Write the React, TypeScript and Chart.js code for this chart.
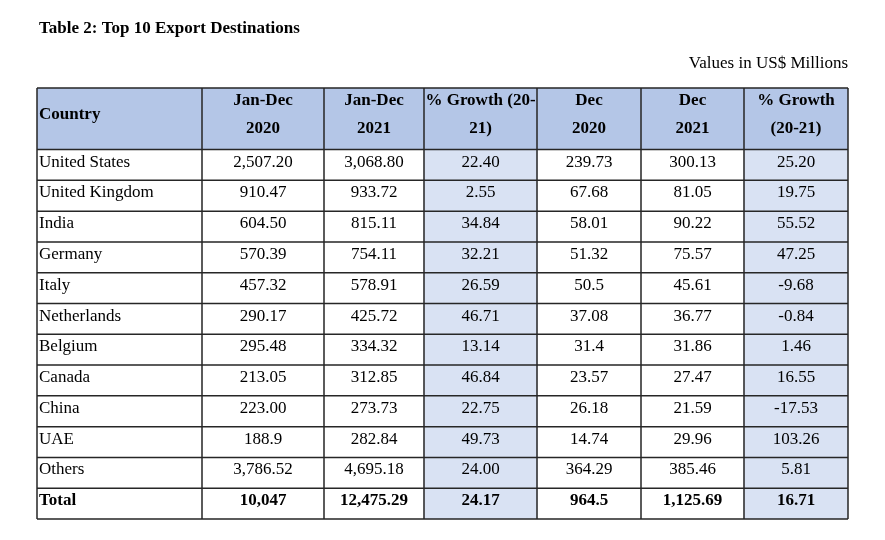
import React, { useEffect, useRef } from "react";
import { Chart, registerables } from "chart.js";

Chart.register(...registerables);

const TITLE = "Table 2: Top 10 Export Destinations";
const UNITS = "Values in US$ Millions";

const headers: string[][] = [
  ["Country"],
  ["Jan-Dec", "2020"],
  ["Jan-Dec", "2021"],
  ["% Growth (20-", "21)"],
  ["Dec", "2020"],
  ["Dec", "2021"],
  ["% Growth", "(20-21)"],
];

const countries = [
  "United States", "United Kingdom", "India", "Germany", "Italy", "Netherlands",
  "Belgium", "Canada", "China", "UAE", "Others", "Total",
];
const janDec2020 = ["2,507.20", "910.47", "604.50", "570.39", "457.32", "290.17", "295.48", "213.05", "223.00", "188.9", "3,786.52", "10,047"];
const janDec2021 = ["3,068.80", "933.72", "815.11", "754.11", "578.91", "425.72", "334.32", "312.85", "273.73", "282.84", "4,695.18", "12,475.29"];
const growthYear = ["22.40", "2.55", "34.84", "32.21", "26.59", "46.71", "13.14", "46.84", "22.75", "49.73", "24.00", "24.17"];
const dec2020 = ["239.73", "67.68", "58.01", "51.32", "50.5", "37.08", "31.4", "23.57", "26.18", "14.74", "364.29", "964.5"];
const dec2021 = ["300.13", "81.05", "90.22", "75.57", "45.61", "36.77", "31.86", "27.47", "21.59", "29.96", "385.46", "1,125.69"];
const growthDec = ["25.20", "19.75", "55.52", "47.25", "-9.68", "-0.84", "1.46", "16.55", "-17.53", "103.26", "5.81", "16.71"];

// layout (not data)
const COL_W = [165, 122, 100, 113, 104, 103, 104];
const SHADED_COLS = [3, 6];
const HEADER_FILL = "#b4c6e7";
const SHADE_FILL = "#d9e2f3";
const LINE = "#262626";
const FONT = '"Liberation Serif", "Times New Roman", serif';

const edges: number[] = [0];
COL_W.forEach((w) => edges.push(edges[edges.length - 1] + w));
const TOTAL_W = edges[edges.length - 1];

const rowKeys = ["h1", "h2", ...countries];
const columns = [countries, janDec2020, janDec2021, growthYear, dec2020, dec2021, growthDec];

export default function App() {
  const ref = useRef<HTMLCanvasElement | null>(null);

  useEffect(() => {
    document.body.style.margin = "0";
    const canvas = ref.current!;
    const tablePlugin = {
      id: "tableText",
      afterDatasetsDraw(chart: any) {
        const ctx = chart.ctx as CanvasRenderingContext2D;
        const xs = chart.scales.x;
        const ys = chart.scales.y;
        const band = ys.getPixelForValue(1) - ys.getPixelForValue(0);
        const rowTop = (i: number) => ys.getPixelForValue(i) - band / 2;
        const colX = edges.map((e) => xs.getPixelForValue(e));
        const nRows = rowKeys.length;
        const top = rowTop(0);
        const bottom = rowTop(nRows - 1) + band;
        ctx.save();
        ctx.fillStyle = "#000";

        // title and units
        ctx.font = `bold 17px ${FONT}`;
        ctx.textAlign = "left";
        ctx.textBaseline = "alphabetic";
        ctx.fillText(TITLE, 39, 33);
        ctx.font = `17px ${FONT}`;
        ctx.textAlign = "right";
        ctx.fillText(UNITS, colX[colX.length - 1], 68);

        // header text
        ctx.font = `bold 17px ${FONT}`;
        headers.forEach((lines, c) => {
          if (c === 0) {
            ctx.textAlign = "left";
            ctx.fillText(lines[0], colX[0] + 2, top + band + 0);
          } else {
            ctx.textAlign = "center";
            const cx = (colX[c] + colX[c + 1]) / 2;
            ctx.fillText(lines[0], cx, rowTop(0) + 17);
            ctx.fillText(lines[1], cx, rowTop(1) + 14.5);
          }
        });

        // body text
        countries.forEach((_, r) => {
          const i = r + 2;
          const isTotal = r === countries.length - 1;
          ctx.font = `${isTotal ? "bold " : ""}17px ${FONT}`;
          const base = rowTop(i) + 17;
          columns.forEach((col, c) => {
            if (c === 0) {
              ctx.textAlign = "left";
              ctx.fillText(col[r], colX[0] + 2, base);
            } else {
              ctx.textAlign = "center";
              ctx.fillText(col[r], (colX[c] + colX[c + 1]) / 2, base);
            }
          });
        });

        // grid lines
        ctx.strokeStyle = LINE;
        ctx.lineWidth = 1.5;
        ctx.beginPath();
        for (let i = 0; i <= nRows; i++) {
          if (i === 1) continue;
          const y = i === nRows ? bottom : rowTop(i);
          ctx.moveTo(colX[0], y);
          ctx.lineTo(colX[colX.length - 1], y);
        }
        colX.forEach((x) => {
          ctx.moveTo(x, top);
          ctx.lineTo(x, bottom);
        });
        ctx.stroke();
        ctx.restore();
      },
    };

    const headerData = rowKeys.map((k, i) => (i < 2 ? [0, TOTAL_W] : null));
    const shadeSets = SHADED_COLS.map((c) => ({
      label: "shade" + c,
      data: rowKeys.map((k, i) => (i < 2 ? null : [edges[c], edges[c + 1]])),
      backgroundColor: SHADE_FILL,
    }));

    const chart = new Chart(canvas, {
      type: "bar",
      data: {
        labels: rowKeys,
        datasets: [
          { label: "header", data: headerData as any, backgroundColor: HEADER_FILL },
          ...(shadeSets as any[]),
        ],
      },
      options: {
        indexAxis: "y",
        animation: false,
        responsive: false,
        maintainAspectRatio: false,
        events: [],
        layout: { padding: { left: 37, top: 88, right: 37, bottom: 21 } },
        datasets: {
          bar: { barPercentage: 1, categoryPercentage: 1, grouped: false, borderWidth: 0 },
        },
        plugins: { legend: { display: false }, tooltip: { enabled: false }, title: { display: false } },
        scales: {
          x: { type: "linear", min: 0, max: TOTAL_W, display: false },
          y: { type: "category", display: false, offset: true },
        },
      } as any,
      plugins: [tablePlugin],
    });
    return () => chart.destroy();
  }, []);

  return (
    <div style={{ width: 885, height: 540, background: "#fff" }}>
      <canvas ref={ref} width={885} height={540} style={{ display: "block" }} />
    </div>
  );
}
